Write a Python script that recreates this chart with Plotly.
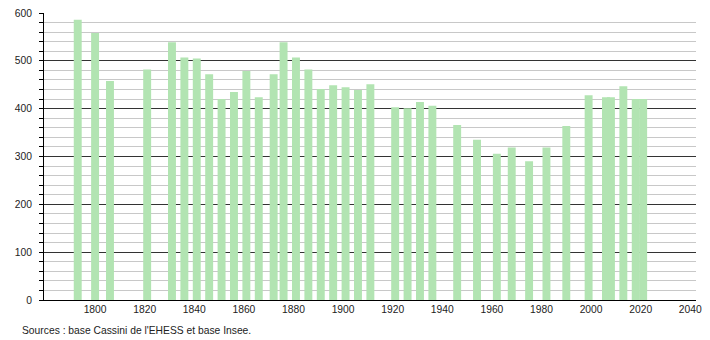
import plotly.graph_objects as go

years = [1793, 1800, 1806, 1821, 1831, 1836, 1841, 1846, 1851, 1856, 1861, 1866,
         1872, 1876, 1881, 1886, 1891, 1896, 1901, 1906, 1911, 1921, 1926, 1931,
         1936, 1946, 1954, 1962, 1968, 1975, 1982, 1990, 1999, 2006, 2008, 2013,
         2018, 2021]
population = [586, 558, 458, 482, 539, 507, 505, 472, 420, 435, 479, 424,
              472, 539, 507, 482, 441, 449, 445, 439, 451, 403, 401, 414,
              406, 366, 335, 306, 319, 290, 319, 364, 428, 424, 424, 447,
              420, 420]
x_ticks = [1800, 1820, 1840, 1860, 1880, 1900, 1920, 1940, 1960, 1980, 2000, 2020, 2040]
y_ticks = [0, 100, 200, 300, 400, 500, 600]
source_text = "Sources : base Cassini de l'EHESS et base Insee."

fig = go.Figure()
fig.add_trace(go.Bar(
    x=years, y=population, width=3.2,
    marker=dict(color="#b2e4b2", line=dict(width=0)),
    hoverinfo="x+y",
))

font = dict(family="Liberation Sans, Arial, sans-serif", size=10.3, color="#222222")

fig.update_layout(
    width=710, height=340,
    margin=dict(l=44, r=8, t=10, b=40),
    paper_bgcolor="white", plot_bgcolor="white",
    showlegend=False,
    font=font,
    xaxis=dict(
        range=[1779.4, 2042.3],
        tickvals=x_ticks, ticktext=[str(v) for v in x_ticks],
        showgrid=False, zeroline=False,
        showline=True, linecolor="#000000", linewidth=1,
        ticks="", tickfont=font,
    ),
    yaxis=dict(
        range=[0, 600],
        tickvals=y_ticks,
        showgrid=True, gridcolor="#333333", gridwidth=1,
        zeroline=False,
        showline=True, linecolor="#000000", linewidth=1,
        ticks="outside", ticklen=4, tickcolor="#000000",
        ticklabelstandoff=5,
        tickfont=font,
        minor=dict(dtick=20, showgrid=True, gridcolor="#c8c8c8", gridwidth=1,
                   ticks="outside", ticklen=4, tickcolor="#000000"),
    ),
    annotations=[dict(
        text=source_text, xref="paper", yref="paper", x=0, y=0,
        xanchor="left", yanchor="middle", xshift=-24, yshift=-30,
        showarrow=False, font=font,
    )],
)

fig.write_html("out.html")
